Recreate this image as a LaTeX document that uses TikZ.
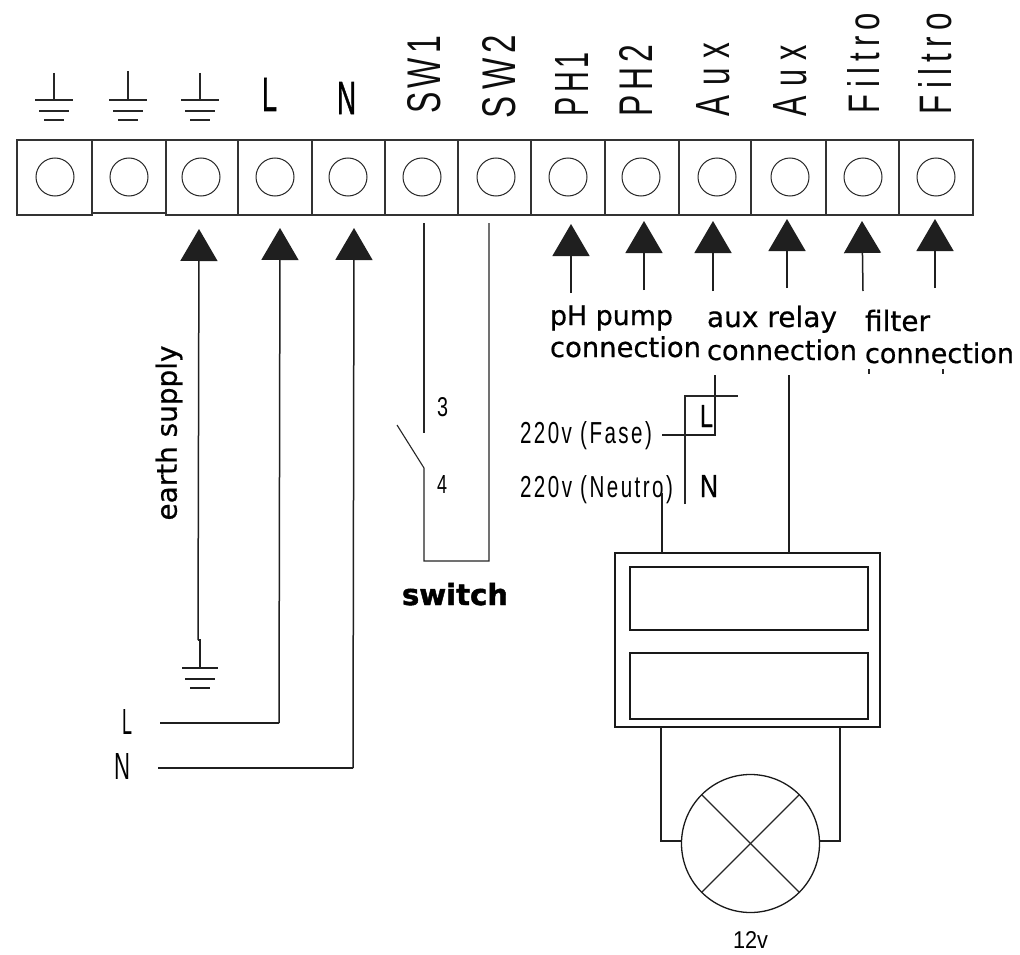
\documentclass[tikz,border=0pt]{standalone}
\usepackage{fontspec}
\usepackage{graphicx}
\usetikzlibrary{arrows.meta,calc}
\setmainfont{Liberation Sans}
\newfontfamily\verd[FakeBold=0.6]{DejaVu Sans}
\newfontfamily\verdb[FakeBold=1.5]{DejaVu Sans Bold}
\newfontfamily\spaced[LetterSpace=14]{Liberation Sans}
\newfontfamily\smallsp[LetterSpace=12]{Liberation Sans}
\newfontfamily\heavy[FakeBold=1.2]{Liberation Sans}
\newcommand{\lbl}[3]{\resizebox{#1pt}{#2pt}{#3}}
\tikzset{
  x=1pt,y=-1pt,
  wire/.style={draw=black!88,line width=1.5pt},
  thinwire/.style={draw=black!85,line width=1.1pt},
  cell/.style={draw=black!80,line width=1.2pt,minimum height=75pt,inner sep=0},
  hole/.style={circle,draw=black!85,line width=1pt,minimum size=38pt,inner sep=0},
  txt/.style={inner sep=0,outer sep=0,anchor=base west,text=black},
  rot/.style={inner sep=0,outer sep=0,rotate=90,text=black!95},
  arrowtip/.style={wire,-{Triangle[length=32pt,width=37pt]}},
  box/.style={draw=black!90,line width=1.6pt,inner sep=0},
}
\begin{document}
\begin{tikzpicture}
\useasboundingbox (0,0) rectangle (1020,955);
\fill[white] (0,0) rectangle (1020,955);
% terminal block
\foreach \i/\a/\b/\c in {1/17/92/55,3/166/238/201,4/238/312/275,5/312/385/348,6/385/458/422,7/458/531/496,8/531/605/568,9/605/679/641,10/679/751/717,11/751/826/790,12/826/899/863,13/899/973/936}{
  \node[cell,minimum width={\b pt-\a pt}] (cell\i) at ({(\a+\b)/2},177.5) {};
  \node[hole] (t\i) at (\c,177) {};
}
\node[cell,minimum width=74pt,minimum height=73pt] (cell2) at (129,176.5) {};
\node[hole] (t2) at (129,177) {};
% top earth symbols
\foreach \n/\x/\t in {g1/54/73,g2/128/71,g3/200/73}{
  \coordinate (\n-top) at (\x,\t);
  \coordinate (\n-bar) at (\x,100);
  \draw[thinwire] (\n-top) -- (\n-bar);
  \draw[thinwire] ($(\n-bar)+(-19,0)$) -- ($(\n-bar)+(19,0)$);
  \draw[thinwire] ($(\n-bar)+(-15,11)$) -- ($(\n-bar)+(15,11)$);
  \draw[thinwire] ($(\n-bar)+(-10,20)$) -- ($(\n-bar)+(10,20)$);
}
% top labels
\node[txt] (lL) at (262,111) {\lbl{15}{33}{\heavy L}};
\node[txt] (lN) at (337,114) {\lbl{19}{32}{\heavy N}};
\node[rot] (sw1) at (424.5,74.5) {\lbl{77}{33}{\spaced S\kern1pt W1}};
\node[rot] (sw2) at (499.5,76.5) {\lbl{83}{33}{\spaced S\kern2pt W2}};
\node[rot] (ph1) at (571.5,84) {\lbl{64}{33}{\spaced PH1}};
\node[rot] (ph2) at (635.5,80.5) {\lbl{71}{33}{\spaced PH2}};
\node[rot] (aux1) at (713.5,79.5) {\lbl{73}{33}{\spaced A\kern3pt u\kern3pt x}};
\node[rot] (aux2) at (790.5,80.5) {\lbl{71}{33}{\spaced A\kern3pt u\kern3pt x}};
\node[rot] (fil1) at (864,63) {\lbl{100}{32}{\spaced F\kern2pt i\kern2pt l\kern2pt t\kern2pt r\kern2pt o}};
\node[rot] (fil2) at (935,63.5) {\lbl{101}{33}{\spaced F\kern2pt i\kern2pt l\kern2pt t\kern2pt r\kern2pt o}};
% arrows
\foreach \n/\x/\xt/\tip/\e in {a3/198/199/229/640,a4/279/280/228/723,a5/353/354/228/768,a8/571/571/224/293,a9/644/644/221/290,a10/713/713/221/291,a11/787/787/219/288,a12/863/862/221/291,a13/935/935/219/288}{
  \coordinate (\n-tip) at (\xt,\tip);
  \coordinate (\n-end) at (\x,\e);
  \draw[arrowtip] (\n-end) -- (\n-tip);
}
% earth supply bottom
\coordinate (gb) at (200,668);
\draw[wire] (a3-end) -- (200,640) -- (gb);
\draw[wire] ($(gb)+(-18,0)$) -- ($(gb)+(18,0)$);
\draw[wire] ($(gb)+(-15,11)$) -- ($(gb)+(15,11)$);
\draw[wire] ($(gb)+(-10,20)$) -- ($(gb)+(10,20)$);
% L N supply
\coordinate (Ls) at (160,723);
\coordinate (Ns) at (158,768);
\draw[wire] (a4-end) -- (Ls);
\draw[wire] (a5-end) -- (Ns);
\node[txt] (lL2) at (122,734) {\lbl{10}{25}{L}};
\node[txt] (lN2) at (114,779) {\lbl{16}{26}{N}};
\node[inner sep=0,rotate=90,text=black] (earth) at (169,433) {\resizebox{175pt}{!}{\verd earth supply}};
% switch
\coordinate (sw1t) at (424,223);
\coordinate (sw1b) at (424,433);
\coordinate (sw2t) at (489,223);
\coordinate (swl) at (424,468);
\coordinate (swb) at (397,425);
\draw[thinwire] (sw1t) -- (sw1b);
\draw[thinwire] (swb) -- (swl) -- (424,561) -- (489,561) -- (sw2t);
\node[txt] (n3) at (437,416) {\lbl{11}{19}{3}};
\node[txt] (n4) at (437,493) {\lbl{10}{18}{4}};
\node[txt] (swlab) at (402,605) {\resizebox{106pt}{!}{\verdb switch}};
% connection labels
\node[txt] (c1a) at (550,325) {\resizebox{123pt}{!}{\verd pH pump}};
\node[txt] (c1b) at (550,357) {\resizebox{151pt}{!}{\verd connection}};
\node[txt] (c2a) at (707,327) {\resizebox{130pt}{!}{\verd aux relay}};
\node[txt] (c2b) at (707,360) {\resizebox{150pt}{!}{\verd connection}};
\node[txt] (c3a) at (865,331) {\resizebox{65pt}{!}{\verd filter}};
\node[txt] (c3b) at (865,363) {\resizebox{149pt}{!}{\verd connection}};
\coordinate (f1a) at (869,369);\coordinate (f1b) at (869,374);
\coordinate (f2a) at (943,369);\coordinate (f2b) at (943,374);
\draw[thinwire] (f1a) -- (f1b);
\draw[thinwire] (f2a) -- (f2b);
% 220v
\node[txt] (fase) at (520,443) {\resizebox{132pt}{22pt}{\smallsp 220v (Fase)}};
\node[txt] (neutro) at (520,497) {\resizebox{153pt}{22pt}{\smallsp 220v (Neutro)}};
\node[txt] (L3) at (700,427) {\lbl{13}{22}{\heavy L}};
\node[txt] (N3) at (700,497) {\lbl{18}{22}{\heavy N}};
% relay
\node[box,minimum width=265pt,minimum height=174pt] (relay) at (747.5,640) {};
\node[box,minimum width=238pt,minimum height=63pt] (coila) at (749,598.5) {};
\node[box,minimum width=238pt,minimum height=66pt] (coilb) at (749,686) {};
\coordinate (auxA) at (715,375);
\coordinate (auxB) at (789,375);
\coordinate (faseE) at (662,435);
\coordinate (neuE) at (662,493);
\coordinate (relN) at (662,553);
\coordinate (relA) at (789,553);
\draw[wire] (auxA) -- (715,435) -- (faseE);
\draw[wire] (auxB) -- (relA);
\draw[wire] (neuE) -- (relN);
\coordinate (vT) at (685,396);
\coordinate (vB) at (685,504);
\coordinate (hR) at (738,396);
\draw[thinwire] (vB) -- (vT) -- (hR);
% lamp
\node[circle,draw=black!90,line width=1.3pt,minimum size=138pt,inner sep=0] (lamp) at (750.5,843.5) {};
\draw[thinwire] (lamp.135) -- (lamp.-45);
\draw[thinwire] (lamp.45) -- (lamp.225);
\coordinate (lampL) at (661,727);
\coordinate (lampR) at (840,727);
\draw[wire] (lampL) |- (lamp.178);
\draw[wire] (lampR) |- (lamp.2);
\node[txt] (v12) at (733,948) {\lbl{35}{17}{12v}};
\end{tikzpicture}
\end{document}
